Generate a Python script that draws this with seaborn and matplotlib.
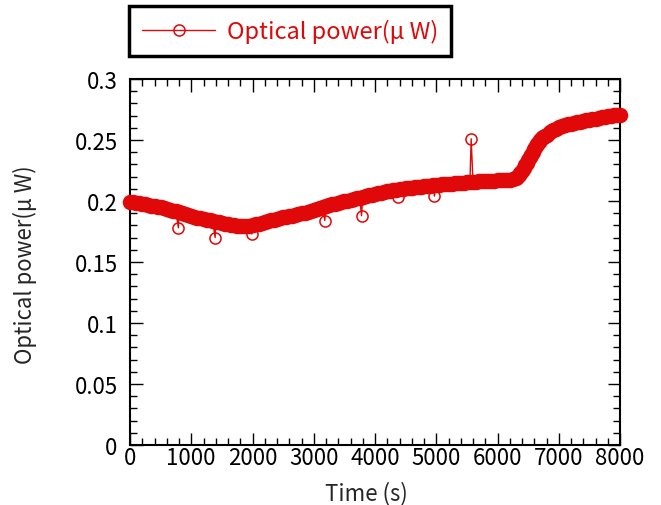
import matplotlib

matplotlib.use("Agg")
import matplotlib.pyplot as plt
import numpy as np
import pandas as pd
import seaborn as sns
from matplotlib.ticker import MultipleLocator

# --------------------------------------------------------------------- #
# Data
# --------------------------------------------------------------------- #
# sample times: 50 s steps, 25 s steps through the steep rise
TIME_S = (list(range(0, 6300, 50)) + list(range(6300, 6800, 25))
          + list(range(6800, 8001, 50)))
POWER_UW = [
    0.1990, 0.1988, 0.1985, 0.1982, 0.1978, 0.1972, 0.1968, 0.1963, 0.1958, 0.1952,  # 0-450
    0.1947, 0.1942, 0.1936, 0.1929, 0.1921, 0.1914, 0.1906, 0.1898, 0.1890, 0.1884,  # 500-950
    0.1877, 0.1870, 0.1864, 0.1858, 0.1852, 0.1847, 0.1841, 0.1836, 0.1831, 0.1826,  # 1000-1450
    0.1820, 0.1815, 0.1810, 0.1806, 0.1802, 0.1799, 0.1797, 0.1796, 0.1796, 0.1799,  # 1500-1950
    0.1803, 0.1808, 0.1814, 0.1821, 0.1828, 0.1835, 0.1841, 0.1847, 0.1853, 0.1859,  # 2000-2450
    0.1865, 0.1870, 0.1876, 0.1881, 0.1887, 0.1893, 0.1899, 0.1905, 0.1911, 0.1917,  # 2500-2950
    0.1925, 0.1933, 0.1941, 0.1950, 0.1958, 0.1965, 0.1972, 0.1979, 0.1986, 0.1992,  # 3000-3450
    0.1998, 0.2004, 0.2010, 0.2016, 0.2022, 0.2028, 0.2034, 0.2040, 0.2046, 0.2052,  # 3500-3950
    0.2058, 0.2063, 0.2068, 0.2073, 0.2078, 0.2083, 0.2088, 0.2092, 0.2096, 0.2100,  # 4000-4450
    0.2104, 0.2107, 0.2110, 0.2113, 0.2116, 0.2118, 0.2121, 0.2123, 0.2126, 0.2128,  # 4500-4950
    0.2131, 0.2133, 0.2136, 0.2138, 0.2140, 0.2142, 0.2144, 0.2146, 0.2148, 0.2150,  # 5000-5450
    0.2152, 0.2154, 0.2156, 0.2158, 0.2160, 0.2161, 0.2163, 0.2164, 0.2166, 0.2167,  # 5500-5950
    0.2169, 0.2171, 0.2172, 0.2174, 0.2176, 0.2178,                                  # 6000-6250
    0.2185, 0.2195, 0.2210, 0.2229, 0.2250, 0.2271, 0.2292, 0.2313, 0.2335, 0.2357,  # 6300-6525
    0.2380, 0.2404, 0.2428, 0.2449, 0.2467, 0.2484, 0.2500, 0.2513, 0.2524, 0.2535,  # 6550-6775
    0.2545, 0.2563, 0.2578, 0.2592, 0.2604, 0.2613, 0.2621, 0.2628, 0.2634, 0.2639,  # 6800-7250
    0.2644, 0.2650, 0.2655, 0.2660, 0.2665, 0.2670, 0.2675, 0.2680, 0.2685, 0.2690,  # 7300-7750
    0.2695, 0.2699, 0.2702, 0.2705, 0.2707,                                          # 7800-8000
]

# single-sample dropouts / spikes
SPIKE_TIME_S = [790, 1390, 1990, 3180, 3780, 4370, 4970, 5570]
SPIKE_POWER_UW = [0.178, 0.170, 0.173, 0.184, 0.188, 0.203, 0.204, 0.251]

X_TICKS = [0, 1000, 2000, 3000, 4000, 5000, 6000, 7000, 8000]
Y_TICKS = [0, 0.05, 0.1, 0.15, 0.2, 0.25, 0.3]
Y_TICK_LABELS = ["0", "0.05", "0.1", "0.15", "0.2", "0.25", "0.3"]

LABEL = "Optical power(μ W)"
RED = "#E00808"
FS = 16

# --------------------------------------------------------------------- #
sns.set_style("ticks")
plt.rcParams["font.family"] = ["Noto Sans CJK JP", "DejaVu Sans"]

base = pd.DataFrame({"time": TIME_S, "power": POWER_UW})
df = pd.DataFrame({"time": TIME_S + SPIKE_TIME_S,
                   "power": POWER_UW + SPIKE_POWER_UW})
df = df.sort_values("time").reset_index(drop=True)

fig = plt.figure(figsize=(6.61, 5.06), dpi=100)
ax = fig.add_axes([130 / 661, 1 - 446 / 506, 490 / 661, 366 / 506])

# the densely sampled record: overlapping open rings merge into a solid band
sns.scatterplot(data=base, x="time", y="power", ax=ax, color=RED, s=125,
                linewidth=0, clip_on=False, legend=False, zorder=3)
sns.lineplot(data=df, x="time", y="power", ax=ax, color=RED, lw=1.0,
             marker="o", markersize=8.0, markerfacecolor="none",
             markeredgecolor=RED, markeredgewidth=1.1, clip_on=False,
             label=LABEL, zorder=4)

ax.set_xlim(0, 8000)
ax.set_ylim(0, 0.3)
ax.set_xticks(X_TICKS)
ax.set_yticks(Y_TICKS)
ax.set_yticklabels(Y_TICK_LABELS)
ax.xaxis.set_minor_locator(MultipleLocator(200))
ax.yaxis.set_minor_locator(MultipleLocator(0.01))
ax.tick_params(which="both", direction="in", top=True, right=True,
               labelsize=FS, colors="black")
ax.tick_params(which="major", length=9, width=1.0)
ax.tick_params(which="minor", length=5, width=1.0)
ax.tick_params(axis="x", pad=1)
ax.tick_params(axis="y", pad=9)
for sp in ax.spines.values():
    sp.set_linewidth(1.5)
    sp.set_color("black")

ax.set_xlabel("Time (s)", fontsize=FS)
ax.set_ylabel(LABEL, fontsize=FS)
ax.xaxis.set_label_coords(0.482, -0.097)
ax.yaxis.set_label_coords(-0.19, 0.495)

leg = ax.legend(loc="upper left", bbox_to_anchor=(129 / 661, 1 - 7 / 506),
                bbox_transform=fig.transFigure, borderaxespad=0,
                fancybox=False, framealpha=1, edgecolor="black",
                fontsize=17, handlelength=3.1, handletextpad=0.5,
                borderpad=0.55, numpoints=1)
leg.get_frame().set_linewidth(2.5)
for txt in leg.get_texts():
    txt.set_color(RED)

fig.savefig("out.png", dpi=100)
